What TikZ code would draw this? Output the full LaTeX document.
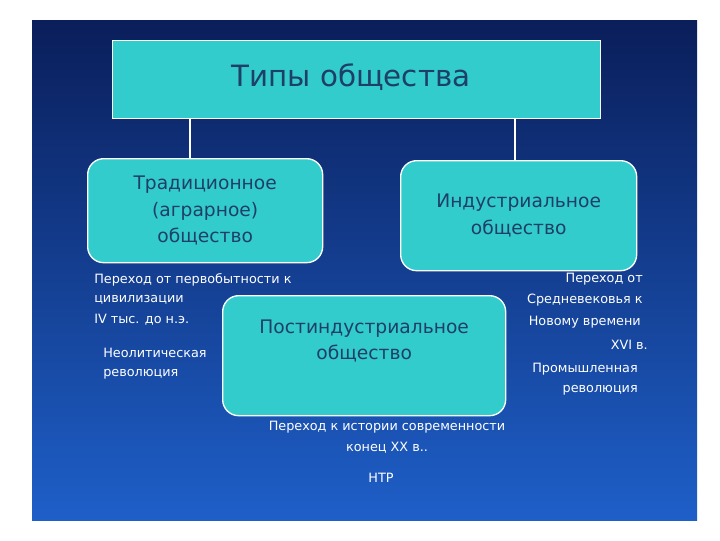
\documentclass[tikz,border=0pt]{standalone}
\usepackage{fontspec}
\setmainfont{DejaVu Sans}
\begin{document}
\begin{tikzpicture}[x=0.75pt,y=-0.75pt,
  box/.style={draw=white,line width=1pt,fill=boxcyan,rounded corners=12pt,text=boxtext,align=center,inner sep=0pt},
  lbl/.style={text=white,font=\fontsize{9.6}{12}\selectfont,inner sep=0pt},
  ln/.style={draw=white,line width=0.8pt}]
\definecolor{boxcyan}{HTML}{33CCCC}
\definecolor{boxtext}{HTML}{1E3F66}
\definecolor{bgtop}{HTML}{0A1E5A}
\definecolor{bgbot}{HTML}{1E5FC8}
\useasboundingbox (0,0) rectangle (720,540);
\fill[white] (0,0) rectangle (720,540);
\shade[top color=bgtop,bottom color=bgbot] (32,20) rectangle (697,520);
\node[box,rounded corners=0pt,minimum width=366pt,minimum height=58.5pt,anchor=north west] (title) at (112,40) {};
\node[text=boxtext,font=\fontsize{22}{26}\selectfont,inner sep=0pt] (ttext) at (351,77) {Типы общества};
\node[box,minimum width=176.25pt,minimum height=78pt,anchor=north west,font=\fontsize{14}{20}\selectfont] (trad) at (87,158) {Традиционное\\(аграрное)\\общество};
\node[box,minimum width=177pt,minimum height=82.5pt,anchor=north west,font=\fontsize{14}{20}\selectfont] (ind) at (400,160) {Индустриальное\\общество};
\node[box,minimum width=212.25pt,minimum height=90pt,anchor=north west,font=\fontsize{14}{20}\selectfont] (post) at (222,295) {Постиндустриальное\\общество\\[4pt]};
\draw[ln] (title.south -| 190,0) -- (trad.north -| 190,0);
\draw[ln] (title.south -| 515,0) -- (ind.north -| 515,0);
\node[lbl,anchor=west] (l1) at (94,280) {Переход от первобытности к};
\node[lbl,anchor=west] (l2) at (94,300) {цивилизации};
\node[lbl,anchor=west] (l3) at (94,320) {IV тыс. до н.э.};
\node[lbl,anchor=west] (l4) at (103,353) {Неолитическая};
\node[lbl,anchor=west] (l5) at (103,374) {революция};
\node[lbl,anchor=east] (r1) at (643,279) {Переход от};
\node[lbl,anchor=east] (r2) at (643,300) {Средневековья к};
\node[lbl,anchor=east] (r3) at (641,322) {Новому времени};
\node[lbl,anchor=east] (r4) at (648,345) {XVI в.};
\node[lbl,anchor=east] (r5) at (638,369) {Промышленная};
\node[lbl,anchor=east] (r6) at (638,390) {революция};
\node[lbl] (b1) at (387,427) {Переход к истории современности};
\node[lbl] (b2) at (387,448) {конец XX в..};
\node[lbl] (b3) at (381,478) {НТР};
\end{tikzpicture}
\end{document}
